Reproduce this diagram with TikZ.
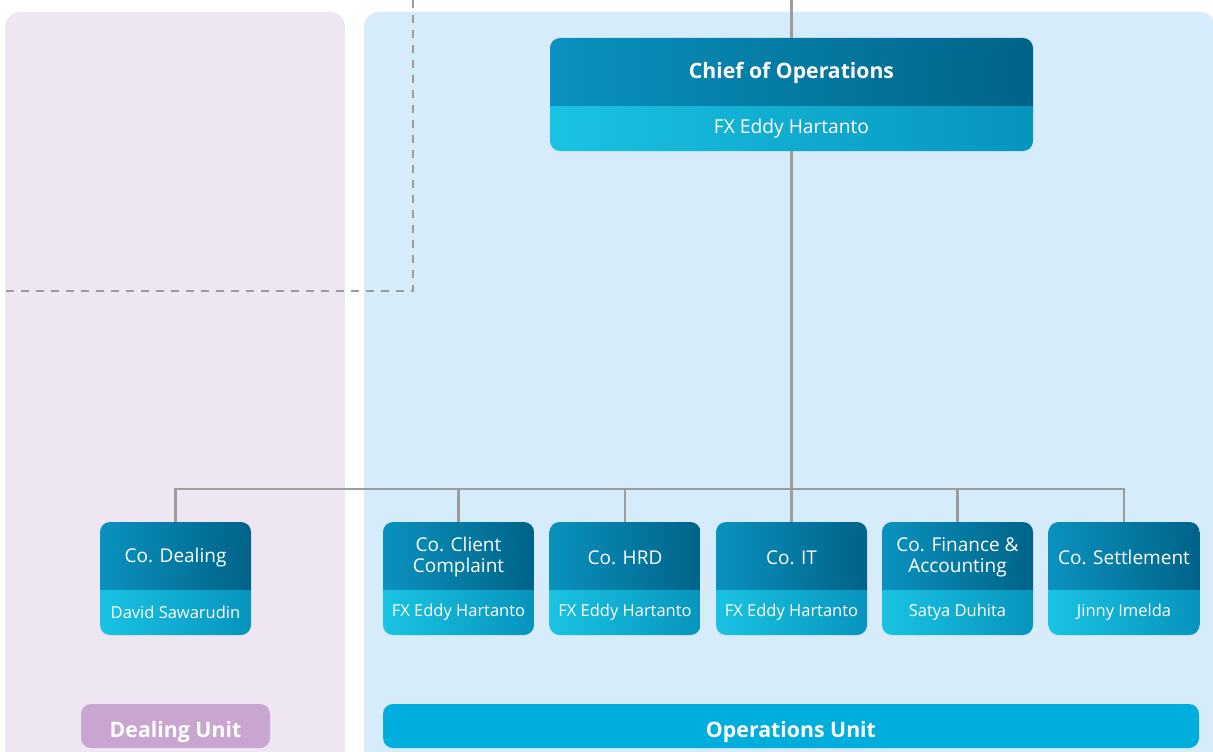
\documentclass[tikz,border=0pt]{standalone}
\usepackage{fontspec}
\setmainfont{Open Sans}
\usetikzlibrary{positioning}
\definecolor{dealbg}{RGB}{239,230,244}
\definecolor{opsbg}{RGB}{215,236,250}
\definecolor{headL}{RGB}{10,146,191}
\definecolor{headR}{RGB}{0,99,136}
\definecolor{nameL}{RGB}{26,195,227}
\definecolor{nameR}{RGB}{7,148,188}
\definecolor{linkgray}{RGB}{156,156,156}
\definecolor{dealtag}{RGB}{200,166,208}
\definecolor{opstag}{RGB}{0,174,221}

\begin{document}
\begin{tikzpicture}[x=1pt,y=-1pt,
    orgbox/.style={rounded corners=10pt, inner sep=0pt, minimum height=113pt,
      path picture={
        \shade[sharp corners, left color=headL, right color=headR]
          (path picture bounding box.north west) rectangle
          ([yshift=45pt]path picture bounding box.south east);
        \shade[sharp corners, left color=nameL, right color=nameR]
          ([yshift=45pt]path picture bounding box.south east) rectangle
          (path picture bounding box.south west);
      }},
    title/.style={text=white, align=center, font=\fontsize{19}{21}\selectfont},
    person/.style={text=white, font=\fontsize{16.5}{19}\selectfont},
    link/.style={draw=linkgray, line width=2.4pt},
    unittag/.style={rounded corners=10pt, minimum height=44pt, inner sep=0pt,
      text=white, font=\fontsize{21.3}{25}\selectfont\bfseries}]

    \clip (0,0) rectangle (1213,752);

    % unit panels
    \fill[dealbg, rounded corners=15pt] (5,12) rectangle (345,790);
    \fill[opsbg, rounded corners=15pt] (364,12) rectangle (1215,790);

    % dashed reporting line from the left
    \coordinate (dashtop) at (413,0);
    \coordinate (dashturn) at (413,291);
    \coordinate (dashend) at (0,291);
    \draw[draw=linkgray, line width=2.4pt, dash pattern=on 8pt off 7pt]
      (dashtop) -- (dashturn) -- (dashend);

    % chief
    \node[orgbox, minimum width=483pt] (chief) at (791.5,94.5) {};
    \node[title, font=\fontsize{21.2}{24}\selectfont\bfseries] (chief-t)
      at ([yshift=-35pt]chief.north) {Chief of Operations};
    \node[person, font=\fontsize{19.2}{22}\selectfont] (chief-p)
      at ([yshift=22.5pt]chief.south) {FX Eddy Hartanto};
    \coordinate (top) at (791.5,0);
    \draw[link] (top) -- (chief.north);

    % coordinators
    \foreach \nm/\cx/\ttl/\who in {
        dealing/175.5/{Co. Dealing}/{David Sawarudin},
        client/458.5/{Co. Client\\Complaint}/{FX Eddy Hartanto},
        hrd/625/{Co. HRD}/{FX Eddy Hartanto},
        it/791.5/{Co. IT}/{FX Eddy Hartanto},
        finance/957.5/{Co. Finance \&\\Accounting}/{Satya Duhita},
        settlement/1124/{Co. Settlement}/{Jinny Imelda}} {
      \node[orgbox, minimum width=151pt] (\nm) at (\cx,578.5) {};
      \node[title] (\nm-t) at ([yshift=-35.5pt]\nm.north) {\ttl};
      \node[person] (\nm-p) at ([yshift=22.5pt]\nm.south) {\who};
    }

    % reporting lines
    \coordinate (bus) at (791.5,489);
    \draw[link] (chief.south) -- (it.north);
    \draw[link] (dealing.north) |- (bus) -| (settlement.north);
    \foreach \nm in {client,hrd,finance}
      \draw[link] (\nm.north) -- (\nm.north |- bus);

    % unit tags
    \node[unittag, fill=dealtag, minimum width=189pt] (dealtag) at (175.5,726)
      {\raisebox{-11pt}[0pt][0pt]{Dealing Unit}};
    \node[unittag, fill=opstag, minimum width=816pt] (opstag) at (791,726)
      {\raisebox{-11pt}[0pt][0pt]{Operations Unit}};
\end{tikzpicture}
\end{document}
